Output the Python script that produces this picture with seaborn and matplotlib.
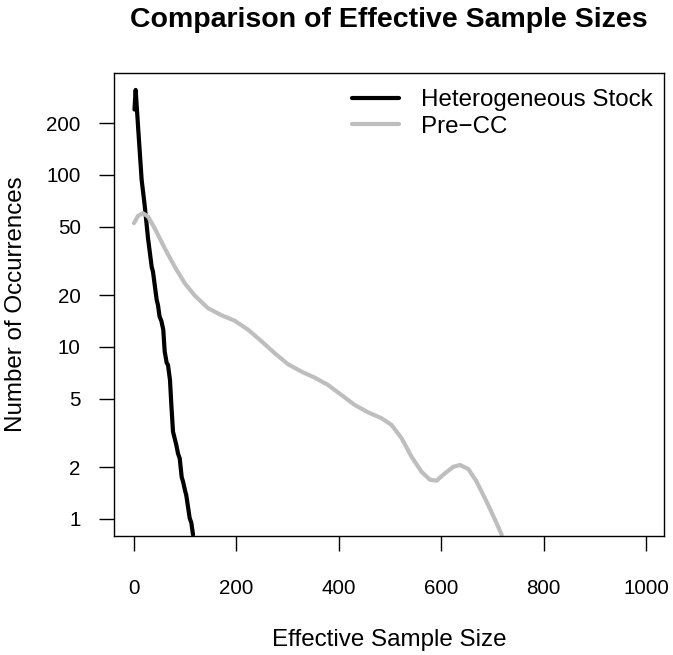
import numpy as np
import pandas as pd
import seaborn as sns
import matplotlib.pyplot as plt
from matplotlib.lines import Line2D

sns.set_style('white')
plt.rcParams['font.family'] = ['Liberation Sans', 'DejaVu Sans']
plt.rcParams['text.color'] = 'black'
plt.rcParams['axes.labelcolor'] = 'black'

# Heterogeneous Stock (black)
hs_x = [1, 3.3, 8.4, 15, 20.8, 27.4, 34.6, 37.1, 44.3, 46.9, 50, 53.4, 57.2, 60, 63.9,
        66.4, 70.3, 73, 76.2, 82.7, 86, 89.3, 93.2, 95.8, 100, 102, 106, 108.8, 112, 115.3]
hs_y = [240, 312, 183, 93.5, 67, 42.9, 29.2, 27.4, 18.8, 17.5, 15, 14.2, 12.6, 9.4, 8.07,
        7.86, 6.43, 4.6, 3.22, 2.69, 2.4, 2.25, 1.75, 1.65, 1.45, 1.38, 1.15, 1.01, 0.95, 0.81]

# Pre-CC (gray)
pcc_x = [0, 7.8, 17.6, 27.4, 40.4, 60, 79.5, 99, 118.6, 144.6, 170.7, 196.7, 222.8,
         248.9, 274.9, 301, 327, 353, 379, 405, 431, 457, 483.4, 503, 522.5, 542, 561.6,
         577.9, 591, 607, 623.5, 636.5, 653, 669, 688.6, 705, 718]
pcc_y = [52.4, 57.8, 59.9, 57.3, 49.0, 37.5, 29.3, 23.5, 19.9, 16.8, 15.3, 14.2, 12.6,
         10.8, 9.19, 7.93, 7.19, 6.63, 6.01, 5.26, 4.60, 4.17, 3.85, 3.52, 2.95, 2.30, 1.88,
         1.69, 1.67, 1.84, 2.01, 2.06, 1.95, 1.65, 1.26, 0.99, 0.81]

x_ticks = [0, 200, 400, 600, 800, 1000]
y_ticks = [1, 2, 5, 10, 20, 50, 100, 200]
groups = ['Heterogeneous Stock', 'Pre\u2212CC']
colors = ['black', '#BEBEBE']

df = pd.concat([
    pd.DataFrame({'ess': hs_x, 'n': hs_y, 'group': groups[0]}),
    pd.DataFrame({'ess': pcc_x, 'n': pcc_y, 'group': groups[1]}),
])

fig = plt.figure(figsize=(6.73, 6.55), dpi=100)
ax = fig.add_axes([114/673, 1 - 536/655, 550/673, (536 - 72.7)/655])

sns.lineplot(data=df, x='ess', y='n', hue='group', sort=False,
             palette=dict(zip(groups, colors)), linewidth=3, ax=ax, legend=False)

ax.set_yscale('log')
ax.set_xlim(-39, 1035)
ax.set_ylim(0.796, 393)
ax.set_xticks(x_ticks)
ax.set_xticklabels([str(t) for t in x_ticks])
ax.set_yticks(y_ticks)
ax.set_yticklabels([str(t) for t in y_ticks])
ax.minorticks_off()
ax.tick_params(axis='both', which='major', direction='out', length=11, width=1,
               color='black', labelcolor='black', labelsize=14.8,
               bottom=True, left=True, top=False, right=False)
ax.tick_params(axis='x', pad=20)
ax.tick_params(axis='y', pad=13)
for s in ax.spines.values():
    s.set_visible(True)
    s.set_color('black')
    s.set_linewidth(1)

ax.set_xlabel('Effective Sample Size', fontsize=17.4, labelpad=22)
ax.set_ylabel('Number of Occurrences', fontsize=17.4, labelpad=14)

handles = [Line2D([], [], color=c, lw=3) for c in colors]
fig.legend(handles, groups, loc='upper left',
           bbox_to_anchor=(351.7/673, 1 - 89/655), frameon=False, fontsize=17.4,
           handlelength=1.95, handletextpad=0.9, labelspacing=0.2,
           borderpad=0, borderaxespad=0)

fig.text(389/673, 1 - 27/655, 'Comparison of Effective Sample Sizes',
         ha='center', va='baseline', fontsize=20.5, fontweight='bold')

fig.savefig('out.png', dpi=100)
